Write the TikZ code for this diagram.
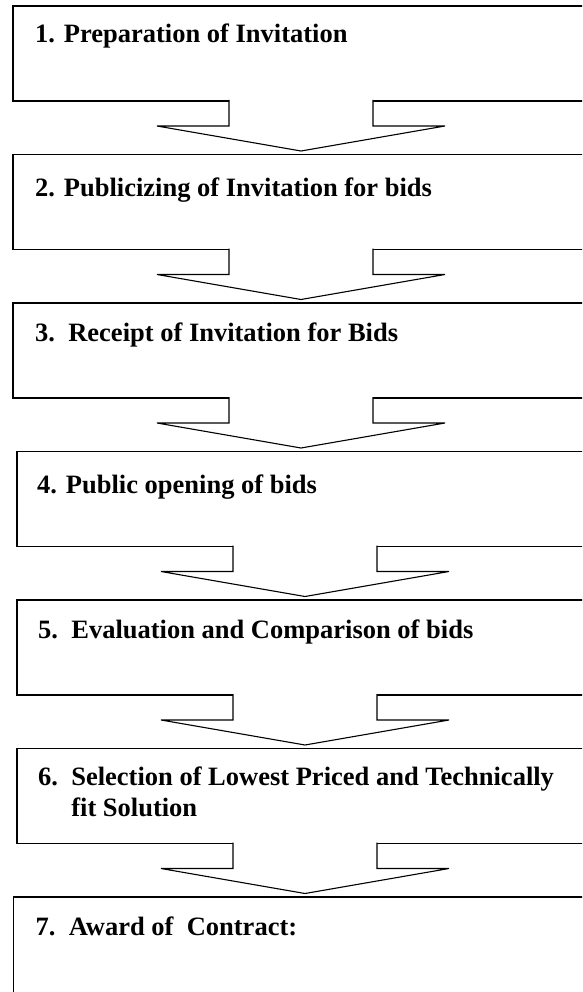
\documentclass[tikz,border=0pt]{standalone}
\usepackage{fontspec}
\setmainfont{Liberation Serif}
\usetikzlibrary{positioning,calc}
\tikzset{
  stagebox/.style={draw=black,fill=white,line width=1.6pt,minimum width=620pt,minimum height=95pt,inner sep=0pt,outer sep=0pt,anchor=north west},
  stagetext/.style={font=\bfseries\fontsize{26.5}{31}\selectfont,align=left,inner sep=0pt,anchor=base west},
  blockarrow/.style={draw=black,fill=white,line width=1.1pt,line join=miter}
}
% open block arrow hanging below a box: #1 box above, #2 centre x
\newcommand{\stagearrow}[2]{%
  \path[blockarrow] ($({#2-72},0 |- #1.south)+(0,-1)$) -- ++(0,26) -- ++(-72,0) -- ++(144,25) -- ++(144,-25) -- ++(-72,0) -- ++(0,-26);}

\begin{document}
\begin{tikzpicture}[x=1pt,y=-1pt]
  \useasboundingbox (0,0) rectangle (582,992);
  \clip (0,0) rectangle (582,992);
  \node[stagebox] (box1) at (13,6) {};
  \node[stagebox,below=53.5pt of box1.south west,anchor=north west] (box2) {};
  \node[stagebox,below=53.5pt of box2.south west,anchor=north west] (box3) {};
  \node[stagebox,below=53.5pt of box3.south west,anchor=north west,xshift=4pt] (box4) {};
  \node[stagebox,below=53.5pt of box4.south west,anchor=north west] (box5) {};
  \node[stagebox,below=53.5pt of box5.south west,anchor=north west] (box6) {};
  \node[stagebox,below=53.5pt of box6.south west,anchor=north west,xshift=-3.5pt,minimum height=130pt] (box7) {};
  \node[stagetext] (text1) at ($(box1.north west)+(22,37)$) {1. Preparation of Invitation};
  \node[stagetext] (text2) at ($(box2.north west)+(22,42)$) {2. Publicizing of Invitation for bids};
  \node[stagetext] (text3) at ($(box3.north west)+(22,38)$) {3.\ \ Receipt of Invitation for Bids};
  \node[stagetext] (text4) at ($(box4.north west)+(20,42)$) {4. Public opening of bids};
  \node[stagetext] (text5) at ($(box5.north west)+(21,38)$) {5.\ \ Evaluation and Comparison of bids};
  \node[stagetext] (text6) at ($(box6.north west)+(21,68)$) {6.\ \ Selection of Lowest Priced and Technically\\\hphantom{6.\ \ }fit Solution};
  \node[stagetext] (text7) at ($(box7.north west)+(22,38)$) {7.\ \ Award of\ \ Contract:};
  \stagearrow{box1}{301}
  \stagearrow{box2}{301}
  \stagearrow{box3}{301}
  \stagearrow{box4}{305}
  \stagearrow{box5}{305}
  \stagearrow{box6}{305}
\end{tikzpicture}
\end{document}
